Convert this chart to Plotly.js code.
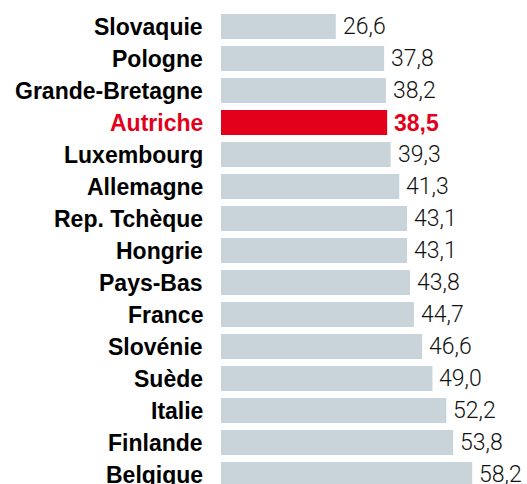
<!DOCTYPE html>
<html>
<head>
<meta charset="utf-8">
<script src="https://cdn.plot.ly/plotly-3.0.1.min.js"></script>
<style>html,body{margin:0;padding:0;background:#fff;}</style>
</head>
<body>
<div id="chart" style="width:527px;height:484px;"></div>
<script>
const countries = ["Slovaquie","Pologne","Grande-Bretagne","Autriche","Luxembourg","Allemagne","Rep. Tchèque","Hongrie","Pays-Bas","France","Slovénie","Suède","Italie","Finlande","Belgique"];
const values = [26.6,37.8,38.2,38.5,39.3,41.3,43.1,43.1,43.8,44.7,46.6,49.0,52.2,53.8,58.2];
const highlight = "Autriche";

const GREY = "#c8d3da", RED = "#e2001a";
const colors = countries.map(c => c === highlight ? RED : GREY);

const fmt = v => v.toFixed(1).replace(".", ",");

const annotations = [];
countries.forEach((c, i) => {
  const hl = c === highlight;
  annotations.push({
    x: 0, xref: "paper", y: c, yref: "y",
    xanchor: "right", yanchor: "middle", xshift: -16,
    text: c, showarrow: false,
    font: {family: "Liberation Sans, Arial, sans-serif", size: 23, weight: 700, color: hl ? RED : "#000"}
  });
  annotations.push({
    x: values[i], xref: "x", y: c, yref: "y",
    xanchor: "left", yanchor: "middle", xshift: 5,
    text: fmt(values[i]), showarrow: false,
    font: hl ? {family: "Liberation Sans, Arial, sans-serif", size: 23, weight: 700, color: RED}
             : {family: "Roboto, Liberation Sans, sans-serif", size: 23, weight: 300, color: "#111"}
  });
});

const trace = {
  type: "bar", orientation: "h",
  x: values, y: countries,
  marker: {color: colors, line: {width: 0}},
  width: 0.78,
  hoverinfo: "none"
};

const layout = {
  width: 527, height: 484,
  margin: {l: 221, r: 0, t: 0, b: 0, pad: 0},
  paper_bgcolor: "#fff", plot_bgcolor: "#fff",
  showlegend: false,
  xaxis: {range: [0, 70.9], visible: false, fixedrange: true},
  yaxis: {type: "category", categoryorder: "array", categoryarray: countries,
          range: [14.297, -0.828], showticklabels: false, showgrid: false,
          zeroline: false, showline: false, ticks: "", fixedrange: true},
  annotations: annotations
};

Plotly.newPlot("chart", [trace], layout, {displayModeBar: false, staticPlot: true});
</script>
</body>
</html>
